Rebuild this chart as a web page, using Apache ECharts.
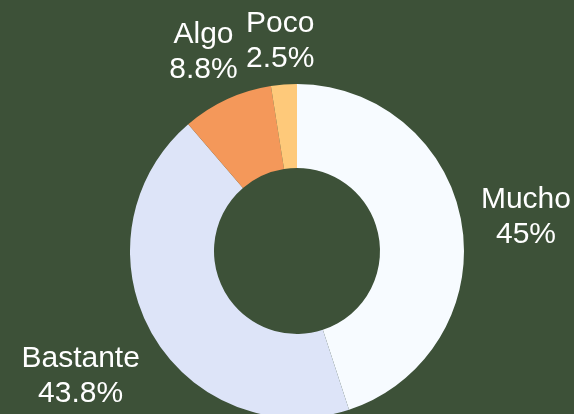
<!DOCTYPE html>
<html>
<head>
<meta charset="utf-8">
<style>
  html, body { margin: 0; padding: 0; background: #3d5138; }
  #chart { width: 574px; height: 414px; }
</style>
<script src="https://cdn.jsdelivr.net/npm/echarts@6/dist/echarts.min.js"></script>
</head>
<body>
<div id="chart"></div>
<script>
// Answer categories and their shares (percent)
const categories = ['Mucho', 'Bastante', 'Algo', 'Poco'];
const shares = [45, 43.8, 8.8, 2.5];
const sliceColors = ['#f7fbff', '#dde4f8', '#f4985a', '#fec97a'];

const CX = 297, CY = 251, R0 = 83, R = 167;
const LABEL_GAP = 16;
const LABEL_SHIFT_Y = 3;

const total = shares.reduce((a, b) => a + b, 0);
// mid angle of each slice, measured clockwise from 12 o'clock
const midAngles = [];
let acc = 0;
shares.forEach(v => {
  midAngles.push((acc + v / 2) / total * 2 * Math.PI);
  acc += v;
});

const FONT = 'Liberation Sans, Arial, sans-serif';

const chart = echarts.init(document.getElementById('chart'));
chart.setOption({
  backgroundColor: '#3d5138',
  animation: false,
  series: [{
    type: 'pie',
    center: [CX, CY],
    radius: [R0, R],
    startAngle: 90,
    clockwise: true,
    avoidLabelOverlap: false,
    data: categories.map((name, i) => ({
      name,
      value: shares[i],
      itemStyle: { color: sliceColors[i] }
    })),
    itemStyle: { borderWidth: 0 },
    label: {
      show: true,
      position: 'outside',
      color: '#ffffff',
      fontFamily: FONT,
      fontSize: 30,
      lineHeight: 35,
      formatter: p => '{t|' + p.name + '}\n{t|' + p.value + '%}',
      rich: {
        t: { align: 'center', color: '#ffffff', fontSize: 30, lineHeight: 35, fontFamily: FONT }
      }
    },
    labelLine: { show: false, length: 10, length2: 0 },
    emphasis: { disabled: true },
    // centre each label on its slice's mid-angle, just clear of the ring
    labelLayout: params => {
      const a = midAngles[params.dataIndex];
      const dx = Math.sin(a), dy = -Math.cos(a);
      const w = params.labelRect.width, h = params.labelRect.height;
      const extent = Math.abs(dx) * w / 2 + Math.abs(dy) * h * 0.4;
      const d = R + LABEL_GAP + extent;
      return {
        x: CX + dx * d,
        y: CY + dy * d + LABEL_SHIFT_Y,
        align: 'center',
        verticalAlign: 'middle'
      };
    }
  }]
});
</script>
</body>
</html>
